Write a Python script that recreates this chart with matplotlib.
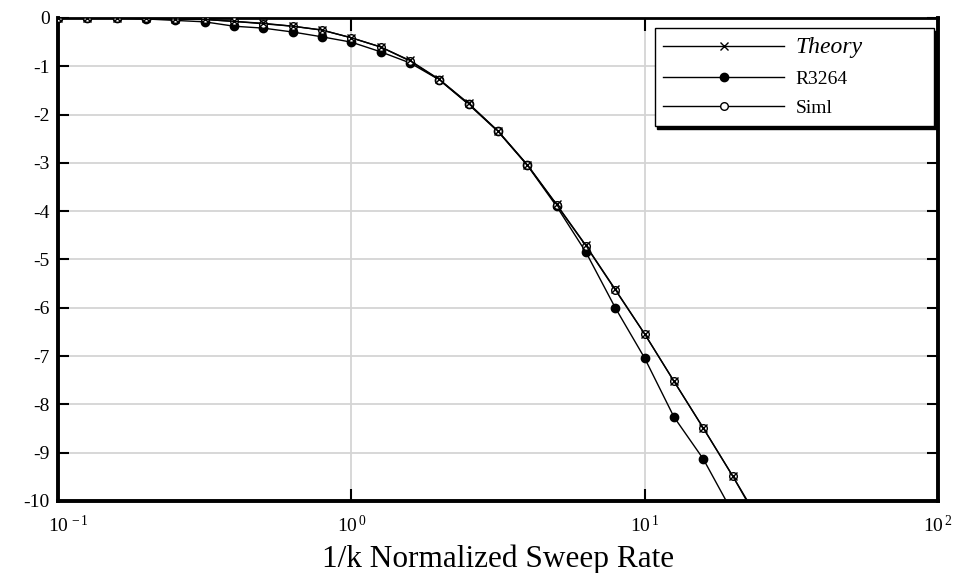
import matplotlib.pyplot as plt
from matplotlib.transforms import ScaledTranslation

plt.rcParams['font.family'] = ['Liberation Serif', 'DejaVu Serif']
plt.rcParams['mathtext.fontset'] = 'custom'
plt.rcParams['mathtext.rm'] = 'Liberation Serif'
plt.rcParams['mathtext.it'] = 'Liberation Serif:italic'

# sweep rate points, 10 per decade
sweep_rate = [10 ** (-1 + 0.1 * i) for i in range(25)]

theory = [0.0, 0.0, 0.0, -0.01, -0.02, -0.03, -0.07, -0.11, -0.17, -0.25,
          -0.41, -0.6, -0.88, -1.27, -1.77, -2.34, -3.04, -3.86, -4.71,
          -5.62, -6.54, -7.52, -8.49, -9.48, -10.5]
r3264 = [0.0, 0.0, 0.0, -0.02, -0.05, -0.08, -0.17, -0.21, -0.29, -0.39,
         -0.5, -0.7, -0.93, -1.28, -1.79, -2.35, -3.05, -3.9, -4.85,
         -6.0, -7.04, -8.26, -9.13, -10.24]
siml = [0.0, 0.0, 0.0, -0.01, -0.02, -0.03, -0.07, -0.12, -0.17, -0.25,
        -0.41, -0.6, -0.89, -1.28, -1.78, -2.34, -3.04, -3.87, -4.72,
        -5.63, -6.54, -7.52, -8.49, -9.48, -10.55]

yticks = list(range(0, -11, -1))
xticks = [0.1, 1, 10, 100]
xtick_labels = [r'$10^{\,-1}$', r'$10^{\,0}$', r'$10^{\,1}$', r'$10^{\,2}$']

fig = plt.figure(figsize=(9.59, 5.73), dpi=100)
ax = fig.add_axes([0.0605, 0.1257, 0.9175, 0.8429])

ax.plot(sweep_rate, theory, color='black', linewidth=1.0, marker='x',
        markersize=5.5, markeredgewidth=1.0, label='Theory', zorder=4)
ax.plot(sweep_rate[:len(r3264)], r3264, color='black', linewidth=1.0,
        marker='o', markersize=6, markerfacecolor='black', label='R3264',
        zorder=3)
ax.plot(sweep_rate, siml, color='black', linewidth=1.0, marker='o',
        markersize=5.5, markerfacecolor='white', markeredgewidth=1.0,
        label='Siml', zorder=3)

ax.set_xscale('log')
ax.set_xlim(0.1, 100)
ax.set_ylim(-10, 0)
ax.minorticks_off()
ax.set_xticks(xticks)
ax.set_xticklabels(xtick_labels)
ax.set_yticks(yticks)
ax.set_yticklabels([str(v) for v in yticks])

ax.grid(True, color='#d4d4d4', linewidth=1.3)
ax.set_axisbelow(True)

for side in ['left', 'right', 'bottom']:
    ax.spines[side].set_linewidth(2.8)
ax.spines['top'].set_linewidth(2.0)

ax.tick_params(axis='x', which='major', direction='in', length=9, width=1.5,
               top=True, labelsize=14, pad=10)
ax.tick_params(axis='y', which='major', direction='in', length=8, width=1.5,
               right=True, labelsize=14, pad=6)

# push the first decade label right so it sits inside the figure
first = ax.get_xticklabels()[0]
first.set_transform(first.get_transform() +
                    ScaledTranslation(0.10, 0, fig.dpi_scale_trans))

ax.set_xlabel('1/k Normalized Sweep Rate', fontsize=22.5, labelpad=6)

leg = ax.legend(loc='upper left', bbox_to_anchor=(0.678, 0.772, 0.318, 0.207),
                mode='expand', borderaxespad=0, fontsize=14, numpoints=1,
                handlelength=6.2, handletextpad=0.6, labelspacing=0.62,
                borderpad=0.45, fancybox=False, edgecolor='black',
                shadow={'color': 'black', 'alpha': 1.0})
leg.get_frame().set_linewidth(1.0)
leg.get_texts()[0].set_fontsize(17)
leg.get_texts()[0].set_style('italic')

fig.savefig('out.png', dpi=100)
